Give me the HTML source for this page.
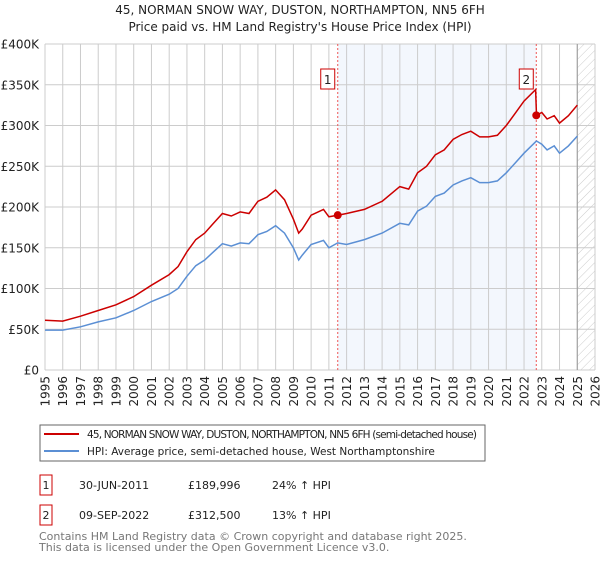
<!DOCTYPE html>
<html><head><meta charset="utf-8"><style>
body{margin:0;background:#fff;font-family:"Liberation Sans","DejaVu Sans",sans-serif;}
svg text{font-family:"DejaVu Sans","Liberation Sans",sans-serif;}
</style></head><body>
<svg id="chart" width="600" height="560" xmlns="http://www.w3.org/2000/svg">
<defs><pattern id="hatch" width="6" height="6" patternUnits="userSpaceOnUse" patternTransform="rotate(45)"><line x1="0" y1="0" x2="0" y2="6" stroke="#ccc" stroke-width="1"/></pattern></defs>
<text x="300" y="14" text-anchor="middle" font-size="12" fill="#222">45, NORMAN SNOW WAY, DUSTON, NORTHAMPTON, NN5 6FH</text>
<text x="300" y="31" text-anchor="middle" font-size="12" fill="#222">Price paid vs. HM Land Registry's House Price Index (HPI)</text>
<g id="plot"></g>
<g>
<rect x="40" y="425" width="445" height="36" fill="#fff" stroke="#666" stroke-width="1"/>
<line x1="44" y1="434" x2="79" y2="434" stroke="#cc0000" stroke-width="2"/>
<text x="87" y="438" font-size="10.5" fill="#222" textLength="390">45, NORMAN SNOW WAY, DUSTON, NORTHAMPTON, NN5 6FH (semi-detached house)</text>
<line x1="44" y1="451" x2="79" y2="451" stroke="#5b8fd4" stroke-width="2"/>
<text x="87" y="455" font-size="10.5" fill="#222">HPI: Average price, semi-detached house, West Northamptonshire</text>
</g>
<g font-size="11" fill="#222">
<rect x="40" y="475" width="12" height="20" fill="#fff" stroke="#cc0000"/><text x="46" y="489" text-anchor="middle">1</text>
<text x="79" y="489">30-JUN-2011</text><text x="188" y="489">£189,996</text><text x="272" y="489">24% ↑ HPI</text>
<rect x="40" y="505" width="12" height="20" fill="#fff" stroke="#cc0000"/><text x="46" y="519" text-anchor="middle">2</text>
<text x="79" y="519">09-SEP-2022</text><text x="188" y="519">£312,500</text><text x="272" y="519">13% ↑ HPI</text>
</g>
<text x="39" y="540" font-size="11" fill="#777">Contains HM Land Registry data © Crown copyright and database right 2025.</text>
<text x="39" y="551" font-size="11" fill="#777">This data is licensed under the Open Government Licence v3.0.</text>
</svg>
<script>
const years=[1995,1996,1997,1998,1999,2000,2001,2002,2002.5,2003,2003.5,2004,2004.5,2005,2005.5,2006,2006.5,2007,2007.5,2008,2008.5,2009,2009.3,2009.5,2010,2010.7,2011,2011.5,2012,2013,2014,2015,2015.5,2016,2016.5,2017,2017.5,2018,2018.5,2019,2019.5,2020,2020.5,2021,2021.5,2022,2022.65,2022.7,2023,2023.3,2023.7,2024,2024.5,2025];
const hpiValues=[49,49,53,59,64,73,84,93,100,115,128,135,145,155,152,156,155,166,170,177,168,150,135,141,154,159,150,156,154,160,168,180,178,195,201,213,217,227,232,236,230,230,232,242,254,266,280,281,277,270,275,266,275,287];
const priceValues=[61,60,66,73,80,90,104,117,127,145,160,168,180,192,189,194,192,207,212,221,209,185,168,173,190,197,188,190,192,197,207,225,222,242,250,264,270,283,289,293,286,286,288,300,315,330,344,312.5,316,308,312,303,312,325];
const yTicks=[0,50,100,150,200,250,300,350,400];
const yTickLabels=["£0","£50K","£100K","£150K","£200K","£250K","£300K","£350K","£400K"];
const xTicks=[1995,1996,1997,1998,1999,2000,2001,2002,2003,2004,2005,2006,2007,2008,2009,2010,2011,2012,2013,2014,2015,2016,2017,2018,2019,2020,2021,2022,2023,2024,2025,2026];
const saleYears=[2011.5,2022.69];
const saleValues=[189.996,312.5];
const saleLabels=["1","2"];
const L=45,R=595,T=44,B=370;
const x=v=>L+(v-1995)/(2026-1995)*(R-L);
const y=v=>B-v/400*(B-T);
const NS="http://www.w3.org/2000/svg";
const g=document.getElementById('plot');
function mk(t,a,p){const e=document.createElementNS(NS,t);for(const k in a)e.setAttribute(k,a[k]);(p||g).appendChild(e);return e;}
let e;
e=mk('rect',{x:x(saleYears[0]),y:T,width:x(saleYears[1])-x(saleYears[0]),height:B-T,fill:'#eef3fc',opacity:0.7});


e=mk('rect',{x:x(2025),y:T,width:R-x(2025),height:B-T,fill:'url(#hatch)'});


yTicks.forEach((v,i)=>{
 e=mk('line',{x1:L,x2:R,y1:y(v),y2:y(v),stroke:'#ccc','stroke-width':1});
 
 
 e=mk('text',{x:L-6,y:y(v)+4.5,'text-anchor':'end','font-size':12,fill:'#222'});
 e.textContent=yTickLabels[i];
 
 
});
xTicks.forEach(v=>{
 e=mk('line',{x1:x(v),x2:x(v),y1:T,y2:B,stroke:'#ccc','stroke-width':1});
 
 
 e=mk('text',{transform:`translate(${x(v)+4.5},${B+6}) rotate(-90)`,'text-anchor':'end','font-size':12,fill:'#222'});
 e.textContent=v;
 
 
});
e=mk('line',{x1:x(2025),x2:x(2025),y1:T,y2:B,stroke:'#999','stroke-width':1});


saleYears.forEach((s,i)=>{
 e=mk('line',{x1:x(s),x2:x(s),y1:T,y2:B,stroke:'#e55','stroke-width':1,'stroke-dasharray':'2,2'});
 
 
});
const pts=a=>a.map((v,i)=>x(years[i]).toFixed(1)+','+y(v).toFixed(1)).join(' ');
e=mk('polyline',{points:pts(hpiValues),fill:'none',stroke:'#5b8fd4','stroke-width':1.5});


e=mk('polyline',{points:pts(priceValues),fill:'none',stroke:'#cc0000','stroke-width':1.5});


saleYears.forEach((s,i)=>{
 e=mk('circle',{cx:x(s),cy:y(saleValues[i]),r:4,fill:'#cc0000'});
 
 
 const bx=x(s)-10;
 e=mk('rect',{x:bx-7,y:69,width:14,height:20,fill:'#fff',stroke:'#cc0000'});
 
 
 e=mk('text',{x:bx,y:84,'text-anchor':'middle','font-size':12,fill:'#222'});
 e.textContent=saleLabels[i];
 
 
});
</script>
</body></html>
